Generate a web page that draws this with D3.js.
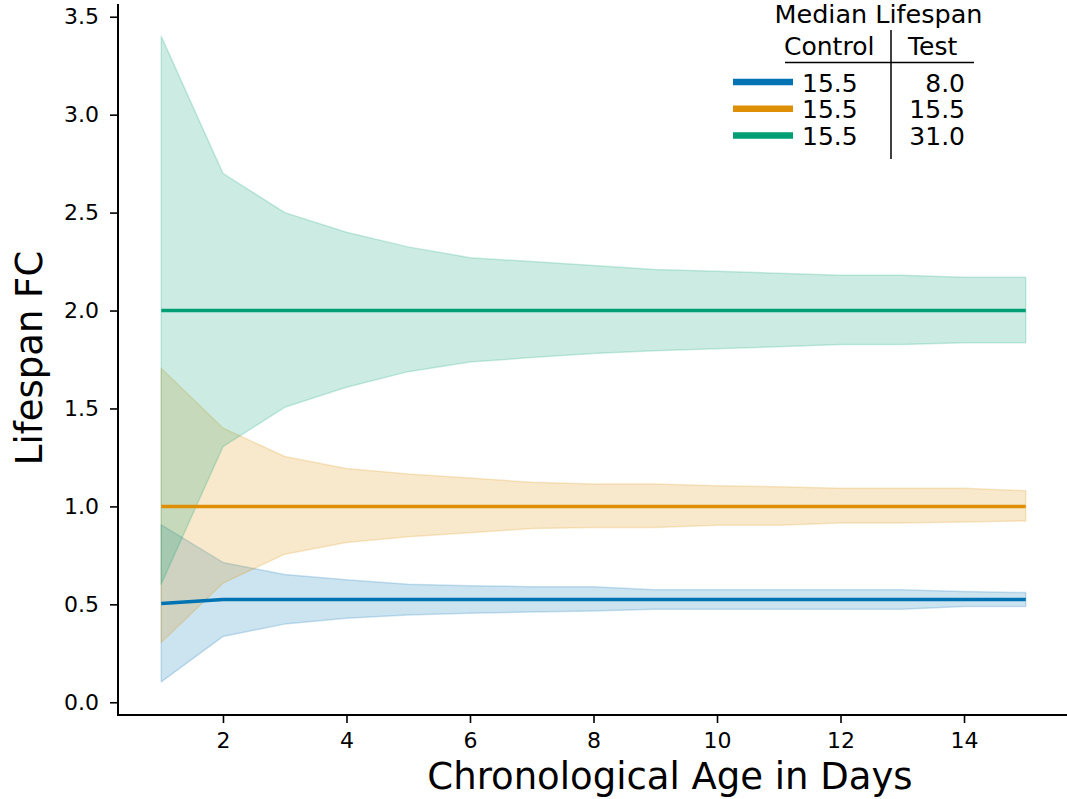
<!DOCTYPE html>
<html><head><meta charset="utf-8">
<script src="https://cdn.jsdelivr.net/npm/d3@7/dist/d3.min.js"></script>
<style>
body{margin:0;background:#fff}
svg{display:block;font-family:"DejaVu Sans",sans-serif}
</style>
</head><body>
<svg id="chart" width="1067" height="799"></svg>
<script>
// ---- data ----
const days = [1,2,3,4,5,6,7,8,9,10,11,12,13,14,15];

const blueMean  = [0.504,0.525,0.525,0.525,0.525,0.525,0.525,0.525,0.525,0.525,0.525,0.525,0.525,0.525,0.525];
const blueUpper = [0.906,0.714,0.652,0.625,0.603,0.595,0.590,0.590,0.575,0.575,0.575,0.575,0.575,0.565,0.560];
const blueLower = [0.104,0.336,0.399,0.429,0.445,0.455,0.461,0.466,0.475,0.475,0.475,0.475,0.475,0.489,0.489];

const orangeMean  = [1.0,1.0,1.0,1.0,1.0,1.0,1.0,1.0,1.0,1.0,1.0,1.0,1.0,1.0,1.0];
const orangeUpper = [1.705,1.400,1.255,1.194,1.165,1.145,1.123,1.114,1.114,1.105,1.100,1.093,1.093,1.093,1.080];
const orangeLower = [0.305,0.608,0.756,0.816,0.845,0.865,0.887,0.892,0.892,0.904,0.904,0.915,0.915,0.920,0.926];

const greenMean  = [2.0,2.0,2.0,2.0,2.0,2.0,2.0,2.0,2.0,2.0,2.0,2.0,2.0,2.0,2.0];
const greenUpper = [3.400,2.700,2.500,2.400,2.325,2.270,2.250,2.230,2.210,2.200,2.190,2.180,2.180,2.170,2.170];
const greenLower = [0.603,1.305,1.506,1.608,1.688,1.737,1.760,1.780,1.795,1.805,1.815,1.826,1.826,1.836,1.836];

const xTicks = [2,4,6,8,10,12,14];
const yTicks = [0.0,0.5,1.0,1.5,2.0,2.5,3.0,3.5];

const legendTitle = "Median Lifespan";
const legendHeaders = ["Control","Test"];
const controlMedians = ["15.5","15.5","15.5"];
const testMedians = ["8.0","15.5","31.0"];

const xLabel = "Chronological Age in Days";
const yLabel = "Lifespan FC";

const seriesColors = ["#0173b2","#de8f05","#029e73"];

// ---- build ----
const series = [
  {mean: blueMean, upper: blueUpper, lower: blueLower, color: seriesColors[0]},
  {mean: orangeMean, upper: orangeUpper, lower: orangeLower, color: seriesColors[1]},
  {mean: greenMean, upper: greenUpper, lower: greenLower, color: seriesColors[2]}
];

const svg = d3.select("#chart");
const mLeft = 118, mRight = 1069, mTop = 4, mBottom = 715;

const x = d3.scaleLinear().domain([0.3, 15.7]).range([mLeft, mRight]);
const y = d3.scaleLinear().domain([-0.065, 3.565]).range([mBottom, mTop]);

const area = d3.area()
  .x((d,i) => x(days[i]))
  .y0(d => y(d[0]))
  .y1(d => y(d[1]));
const line = d3.line().x((d,i) => x(days[i])).y(d => y(d));

const plot = svg.append("g");
series.forEach(s => {
  const pts = s.lower.map((l,i) => [l, s.upper[i]]);
  plot.append("path")
    .attr("d", area(pts))
    .attr("fill", s.color).attr("fill-opacity", 0.2)
    .attr("stroke", s.color).attr("stroke-opacity", 0.2)
    .attr("stroke-width", 1.5).attr("stroke-linejoin", "round");
});
series.forEach(s => {
  plot.append("path")
    .attr("d", line(s.mean))
    .attr("fill", "none")
    .attr("stroke", s.color)
    .attr("stroke-width", 3.5);
});

// axes
const yAxis = svg.append("g").attr("transform", `translate(${mLeft},0)`)
  .call(d3.axisLeft(y).tickValues(yTicks).tickFormat(d3.format(".1f")).tickSize(8).tickPadding(11));
const xAxis = svg.append("g").attr("transform", `translate(0,${mBottom})`)
  .call(d3.axisBottom(x).tickValues(xTicks).tickFormat(d3.format("d")).tickSize(8).tickPadding(9));
[yAxis, xAxis].forEach(a => {
  a.select(".domain").remove();
  a.selectAll(".tick line").attr("stroke", "#000").attr("stroke-width", 1.6);
  a.selectAll(".tick text").attr("fill", "#000")
    .style("font-size", "22px").style("font-family", '"DejaVu Sans",sans-serif');
});
svg.append("line").attr("x1", mLeft).attr("x2", mLeft).attr("y1", mTop).attr("y2", mBottom + 1)
  .attr("stroke", "#000").attr("stroke-width", 2);
svg.append("line").attr("x1", mLeft - 1).attr("x2", mRight).attr("y1", mBottom).attr("y2", mBottom)
  .attr("stroke", "#000").attr("stroke-width", 2);

// axis labels
svg.append("text").attr("x", 670).attr("y", 789).attr("text-anchor", "middle")
  .style("font-size", "37px").text(xLabel);
svg.append("text").attr("transform", "translate(42,358) rotate(-90)")
  .attr("text-anchor", "middle").style("font-size", "37px").text(yLabel);

// legend table
const lg = svg.append("g").style("font-size", "25px");
lg.append("text").attr("x", 878.5).attr("y", 23).attr("text-anchor", "middle").style("font-size", "25.5px").text(legendTitle);
lg.append("text").attr("x", 784).attr("y", 55).text(legendHeaders[0]);
lg.append("text").attr("x", 908).attr("y", 55).text(legendHeaders[1]);
lg.append("line").attr("x1", 785).attr("x2", 974).attr("y1", 62.5).attr("y2", 62.5)
  .attr("stroke", "#000").attr("stroke-width", 1.5);
lg.append("line").attr("x1", 891).attr("x2", 891).attr("y1", 30).attr("y2", 159)
  .attr("stroke", "#000").attr("stroke-width", 1.5);
const rowY = [91.5, 118.2, 145];
series.forEach((s,i) => {
  lg.append("line").attr("x1", 733).attr("x2", 793)
    .attr("y1", rowY[i] - 9.5).attr("y2", rowY[i] - 9.5)
    .attr("stroke", s.color).attr("stroke-width", 6.5);
  lg.append("text").attr("x", 802).attr("y", rowY[i]).text(controlMedians[i]);
  lg.append("text").attr("x", 965).attr("y", rowY[i]).attr("text-anchor", "end").text(testMedians[i]);
});
</script>
</body></html>
